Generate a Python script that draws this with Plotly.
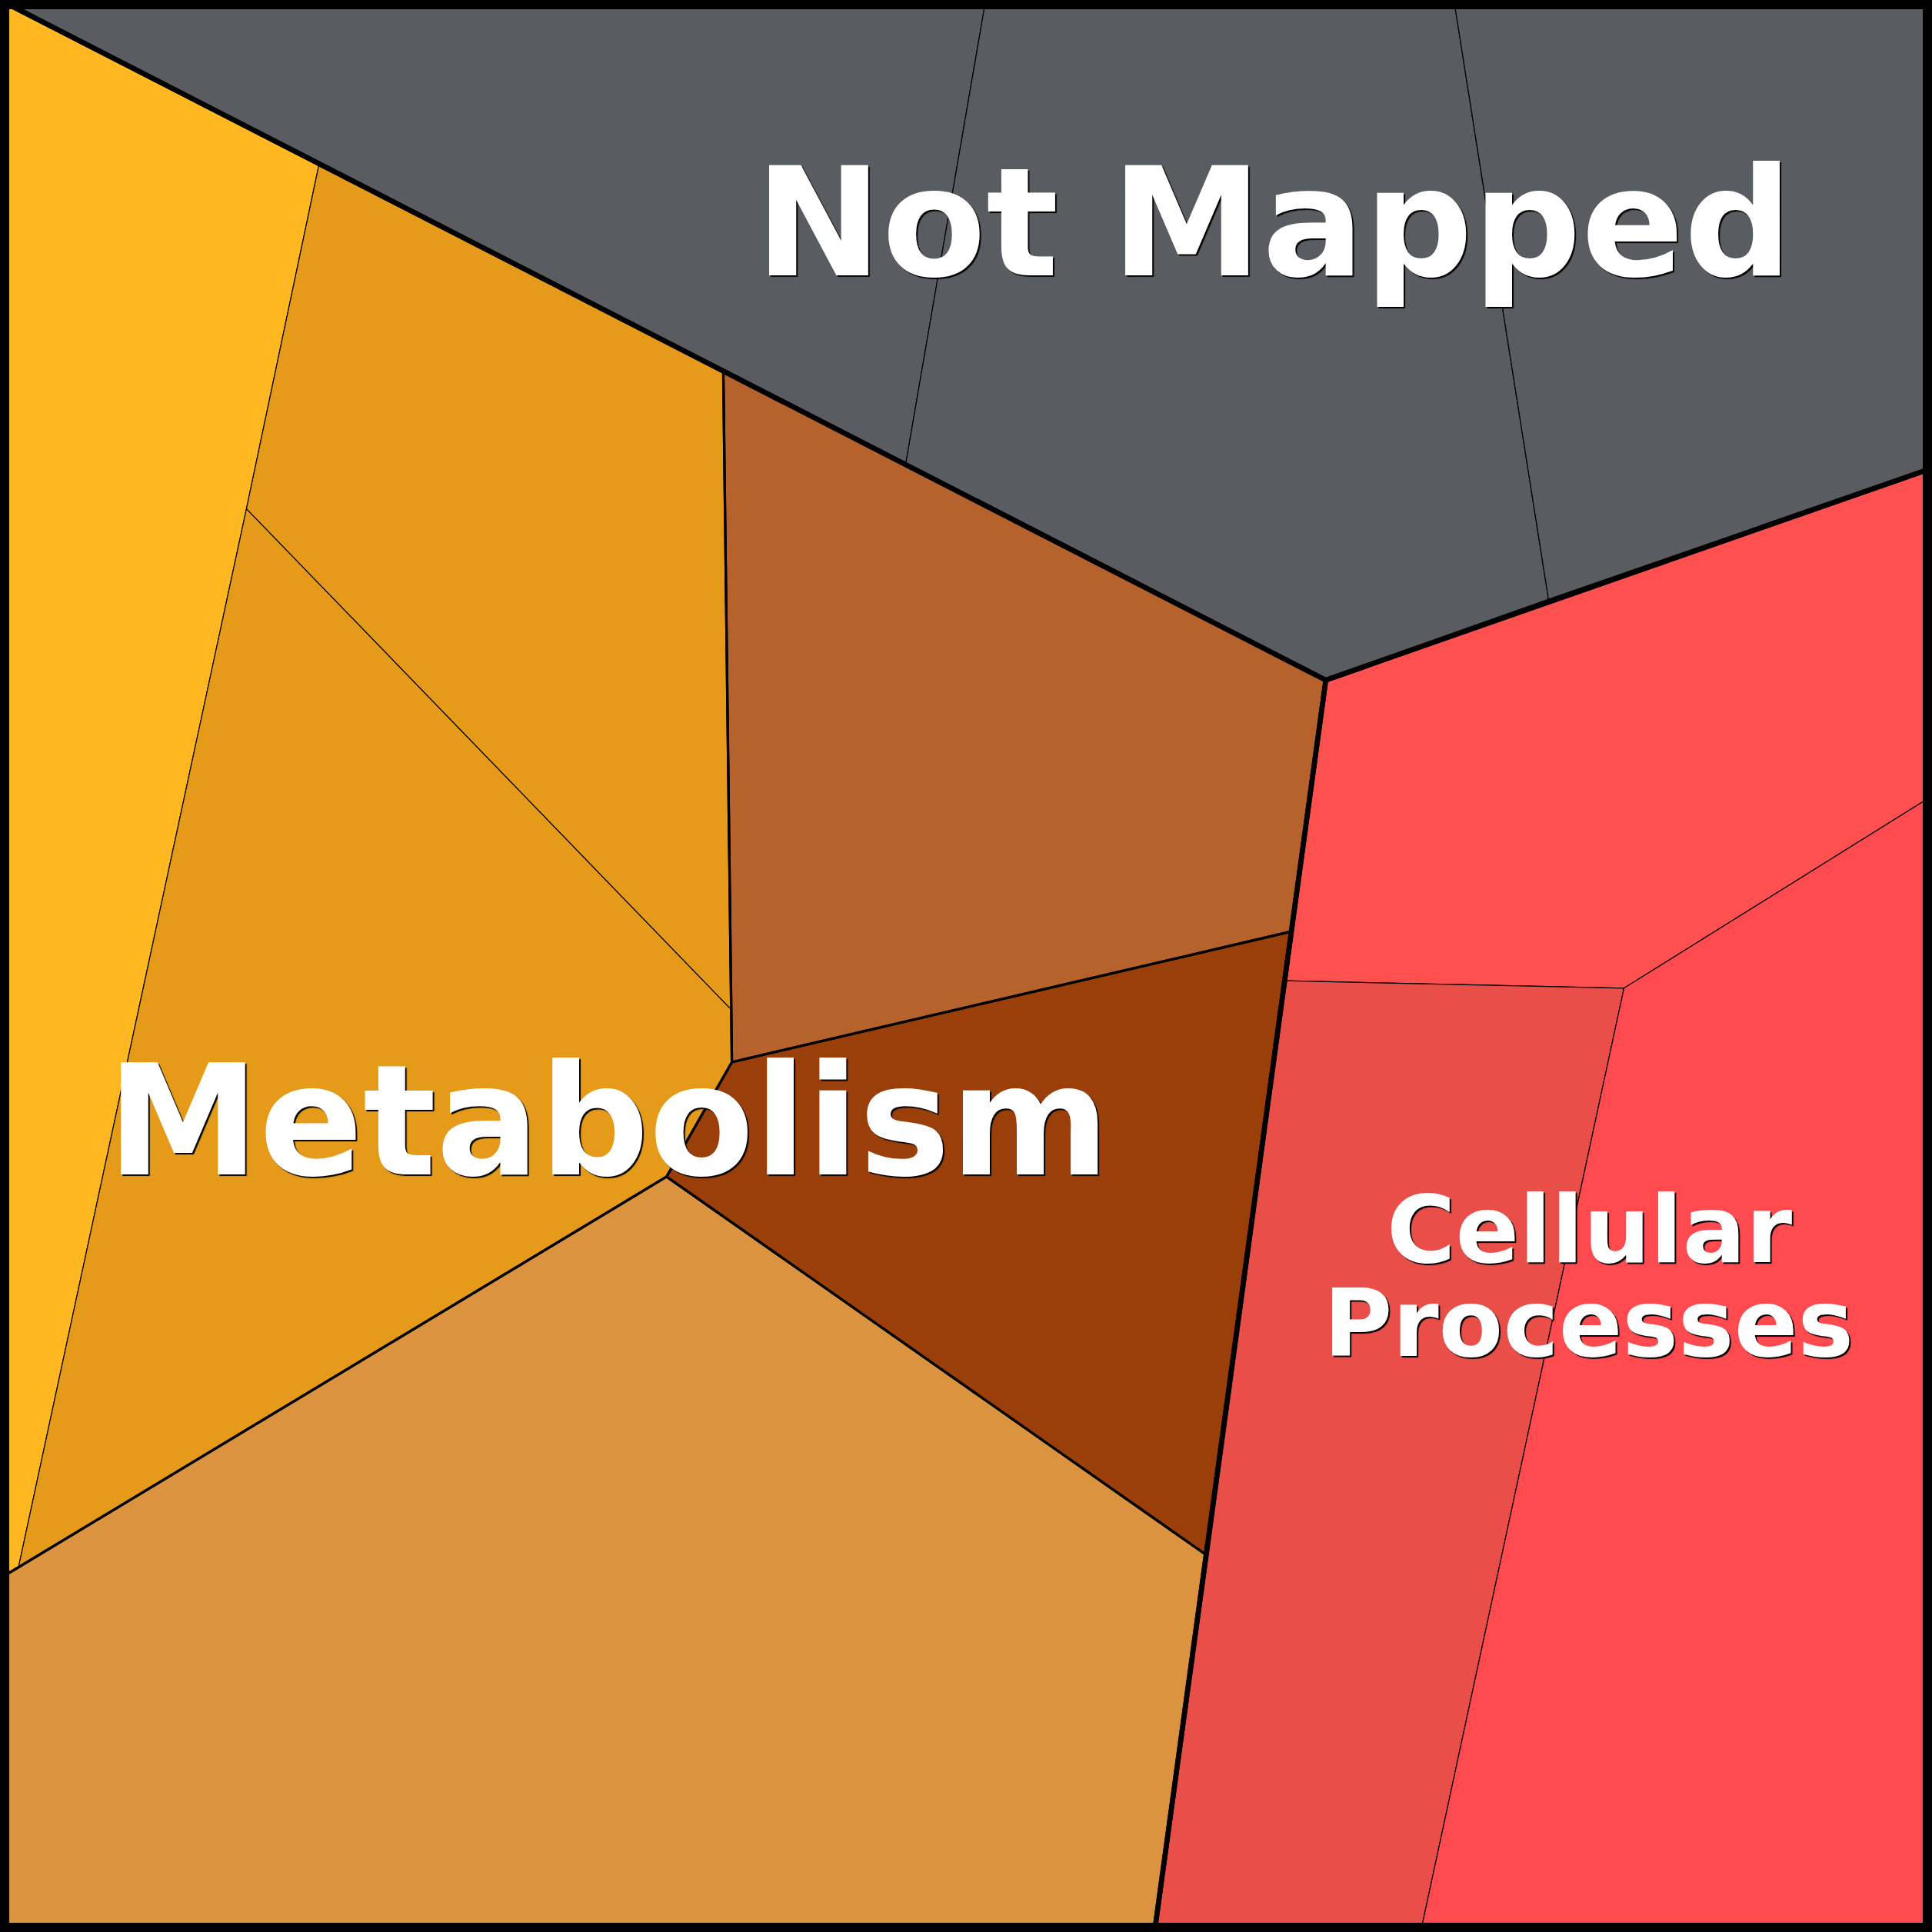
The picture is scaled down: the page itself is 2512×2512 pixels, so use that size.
import plotly.graph_objects as go

# ---- data (coordinates in a 1568 x 1568 layout space, y downward) ----
cell_names = ["NM1", "NM2", "NM3", "Y1", "O1", "O2", "B", "DB", "LO", "R1", "R2", "R3"]
cell_x = [
    [0, 800, 735],
    [800, 1180, 1257, 1076, 735],
    [1180, 1568, 1568, 1257],
    [0, 259, 200, 15, 0],
    [259, 587, 594, 200],
    [200, 594, 594, 541, 15],
    [587, 1076, 1048, 594],
    [594, 1048, 979, 541],
    [0, 15, 541, 979, 937, 0],
    [1076, 1568, 1568, 1318, 1043, 1048],
    [1043, 1318, 1153, 937],
    [1318, 1568, 1568, 1153],
]
cell_y = [
    [0, 0, 377],
    [0, 0, 488, 552, 377],
    [0, 0, 380, 488],
    [0, 133, 413, 1272, 1281],
    [133, 301, 820, 413],
    [413, 820, 862, 955, 1272],
    [301, 552, 756, 862],
    [862, 756, 1262, 955],
    [1281, 1272, 955, 1262, 1568, 1568],
    [552, 380, 646, 802, 796, 756],
    [796, 802, 1568, 1568],
    [802, 646, 1568, 1568],
]
cell_colors = ["#595D62", "#595D62", "#595D62",
               "#FFB822", "#E59A1A", "#E59A1A",
               "#B5622D", "#9B3F0A", "#DB9340",
               "#FF5050", "#E94E48", "#FF4A4F"]

# level-2 groups (medium outlines)
sub_x = [
    [0, 587, 594, 541, 0],
    [587, 1076, 1048, 594],
    [594, 1048, 979, 541],
    [0, 15, 541, 979, 937, 0],
]
sub_y = [
    [0, 301, 862, 955, 1281],
    [301, 552, 756, 862],
    [862, 756, 1262, 955],
    [1281, 1272, 955, 1262, 1568, 1568],
]

# level-1 groups (thick outlines)
grp_names = ["Not Mapped", "Metabolism", "Cellular Processes"]
grp_x = [
    [0, 1568, 1568, 1257, 1076],
    [0, 1076, 1048, 979, 937, 0],
    [1076, 1568, 1568, 937, 979, 1048],
]
grp_y = [
    [0, 0, 380, 488, 552],
    [0, 552, 756, 1262, 1568, 1568],
    [552, 380, 1568, 1568, 1262, 756],
]

label_text = ["Not Mapped", "Metabolism", "Cellular", "Processes"]
label_x = [1034, 494, 1290, 1289]
label_y = [181, 910, 998, 1074]
label_size = [197, 199, 122, 122]

fig = go.Figure()

def closed(a):
    return list(a) + [a[0]]

for n, xs, ys, c in zip(cell_names, cell_x, cell_y, cell_colors):
    fig.add_trace(go.Scatter(x=closed(xs), y=closed(ys), mode="lines", fill="toself",
                             fillcolor=c, line=dict(color="black", width=1.2),
                             name=n, hoverinfo="name", showlegend=False))

for xs, ys in zip(sub_x, sub_y):
    fig.add_trace(go.Scatter(x=closed(xs), y=closed(ys), mode="lines",
                             line=dict(color="black", width=3.2),
                             hoverinfo="skip", showlegend=False))

for n, xs, ys in zip(grp_names, grp_x, grp_y):
    fig.add_trace(go.Scatter(x=closed(xs), y=closed(ys), mode="lines",
                             line=dict(color="black", width=6.5),
                             hoverinfo="skip", showlegend=False))

for t, x, y, s in zip(label_text, label_x, label_y, label_size):
    fig.add_annotation(x=x, y=y, xref="x", yref="y", text="<b>%s</b>" % t,
                       showarrow=False, xanchor="center", yanchor="middle",
                       font=dict(family="DejaVu Sans", size=s, color="white",
                                 shadow="2px 2px 1px #000"))

fig.add_shape(type="rect", xref="paper", yref="paper",
              x0=0.0024, x1=0.9976, y0=0.0024, y1=0.9976,
              line=dict(color="black", width=12), fillcolor="rgba(0,0,0,0)")

fig.update_xaxes(range=[0, 1568], visible=False, fixedrange=True)
fig.update_yaxes(range=[1568, 0], visible=False, fixedrange=True)
fig.update_layout(width=2512, height=2512, margin=dict(l=0, r=0, t=0, b=0),
                  plot_bgcolor="white", paper_bgcolor="white", showlegend=False)

fig.write_html("out.html", config={"displayModeBar": False},
               post_script="document.body.style.margin='0';document.body.style.overflow='hidden';")
